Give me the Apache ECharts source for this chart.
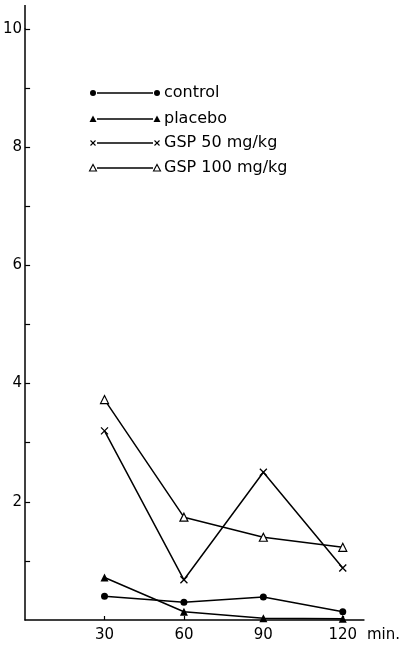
<!DOCTYPE html>
<html><head><meta charset="utf-8">
<script src="https://cdn.jsdelivr.net/npm/echarts@6/dist/echarts.min.js"></script>
<style>html,body{margin:0;padding:0;background:#fff}#c{width:403px;height:649px}</style>
</head><body><div id="c"></div>
<script>
var times = [30, 60, 90, 120];
var seriesNames = ['control', 'placebo', 'GSP 50 mg/kg', 'GSP 100 mg/kg'];
var control = [0.40, 0.30, 0.39, 0.14];
var placebo = [0.72, 0.14, 0.03, 0.02];
var gsp50 = [3.20, 0.68, 2.50, 0.88];
var gsp100 = [3.73, 1.74, 1.40, 1.23];
var yTickValues = [1,2,3,4,5,6,7,8,9,10];
var yLabelValues = [2,4,6,8,10];
var xLabelValues = [30,60,90,120];

function pairs(v){ return times.map(function(t,i){ return [t, v[i]]; }); }
var font = '"DejaVu Sans", sans-serif';
var chart = echarts.init(document.getElementById('c'));
var baseLine = {color:'#000', width:1.5};
var xPath = 'path://M0,0L10,10M10,0L0,10';

var legendRows = [93, 119, 143, 168];
var g = [];
function marker(kind, x, y){
  if (kind === 0) return {type:'circle', shape:{cx:x, cy:y, r:3}, style:{fill:'#000'}};
  if (kind === 1) return {type:'polygon', shape:{points:[[x-3.5,y+3],[x+3.5,y+3],[x,y-3.5]]}, style:{fill:'#000'}};
  if (kind === 2) return {type:'group', children:[
    {type:'line', shape:{x1:x-2.5,y1:y-2.5,x2:x+2.5,y2:y+2.5}, style:{stroke:'#000', lineWidth:1.1}},
    {type:'line', shape:{x1:x+2.5,y1:y-2.5,x2:x-2.5,y2:y+2.5}, style:{stroke:'#000', lineWidth:1.1}}]};
  return {type:'polygon', shape:{points:[[x-3.5,y+3],[x+3.5,y+3],[x,y-3.5]]}, style:{fill:'#fff', stroke:'#000', lineWidth:1.1}};
}
legendRows.forEach(function(y, i){
  g.push({type:'line', shape:{x1:97, y1:y, x2:153, y2:y}, style:{stroke:'#000', lineWidth:1.3}});
  g.push(marker(i, 93, y));
  g.push(marker(i, 157, y));
  g.push({type:'text', x:164, y:y, style:{text:seriesNames[i], font:'16px ' + font, fill:'#000', verticalAlign:'middle', align:'left'}});
});
// extension of the y axis above 10
g.push({type:'line', shape:{x1:25, y1:5, x2:25, y2:29}, style:{stroke:'#000', lineWidth:1.5}});

chart.setOption({
  animation:false,
  backgroundColor:'#fff',
  grid:{left:25, right:35, top:29, bottom:29},
  xAxis:{
    type:'value', min:0, max:128,
    name:'min.', nameLocation:'end', nameGap:3,
    nameTextStyle:{color:'#000', fontSize:15, fontFamily:font, align:'left', verticalAlign:'top', padding:[8,0,0,0]},
    axisLine:{show:true, lineStyle:{color:'#000', width:1.5}},
    axisTick:{show:true, inside:true, length:4, customValues:xLabelValues, lineStyle:{color:'#000', width:1.2}},
    axisLabel:{color:'#000', fontSize:15, fontFamily:font, margin:8, customValues:xLabelValues},
    splitLine:{show:false}
  },
  yAxis:{
    type:'value', min:0, max:10,
    axisLine:{show:true, lineStyle:{color:'#000', width:1.5}},
    axisTick:{show:true, inside:true, length:5, customValues:yTickValues, lineStyle:{color:'#000', width:1.2}},
    axisLabel:{color:'#000', fontSize:15, fontFamily:font, margin:3, customValues:yLabelValues},
    splitLine:{show:false}
  },
  graphic:g,
  series:[
    {name:seriesNames[0], type:'line', data:pairs(control), symbol:'circle', symbolSize:7,
     itemStyle:{color:'#000'}, lineStyle:baseLine, z:3},
    {name:seriesNames[1], type:'line', data:pairs(placebo), symbol:'triangle', symbolSize:8,
     itemStyle:{color:'#000'}, lineStyle:baseLine, z:3},
    {name:seriesNames[2], type:'line', data:pairs(gsp50), symbol:xPath, symbolSize:7,
     itemStyle:{color:'#000', borderColor:'#000', borderWidth:1.3}, lineStyle:baseLine, z:3},
    {name:seriesNames[3], type:'line', data:pairs(gsp100), symbol:'triangle', symbolSize:8,
     itemStyle:{color:'#fff', borderColor:'#000', borderWidth:1.2}, lineStyle:baseLine, z:3}
  ]
});
</script></body></html>
